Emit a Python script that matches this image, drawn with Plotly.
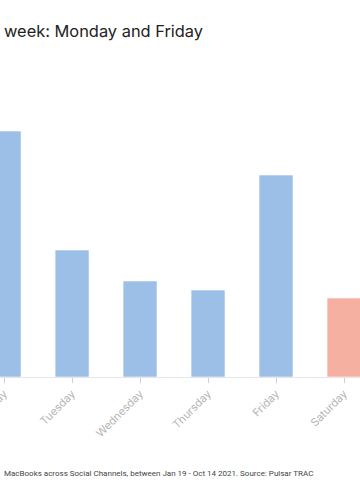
import plotly.graph_objects as go

days = ["Monday", "Tuesday", "Wednesday", "Thursday", "Friday", "Saturday", "Sunday"]
mentions = [246, 127, 96, 87, 202, 79, 82]
bar_colors = ["#9bbfe6"] * 5 + ["#f6b0a1"] * 2

title_text = "week: Monday and Friday"
footer_text = "MacBooks across Social Channels, between Jan 19 - Oct 14 2021. Source: Pulsar TRAC"

W, H = 360, 500
T, B = 77, 123
plot_h = H - T - B

fig = go.Figure(go.Bar(
    x=days, y=mentions,
    marker=dict(color=bar_colors, line=dict(color="rgba(255,255,255,0.6)", width=1)),
    width=0.5,
))

fig.update_layout(
    width=W, height=H,
    margin=dict(l=0, r=0, t=T, b=B, autoexpand=False),
    plot_bgcolor="white", paper_bgcolor="white",
    showlegend=False,
    font=dict(family="Inter, Noto Sans, sans-serif"),
    xaxis=dict(
        range=[-0.06, 5.235], automargin=False,
        showline=True, linecolor="#e6e6e6", linewidth=1,
        ticks="outside", ticklen=5, tickcolor="#d0d0d0",
        tickangle=-45, tickfont=dict(size=11, color="#b5b5b5"),
        showgrid=False, fixedrange=True,
    ),
    yaxis=dict(range=[0, 300], visible=False, showgrid=False, automargin=False, fixedrange=True),
)

fig.add_annotation(text=title_text, xref="paper", yref="paper", x=0.005, y=1 + (T - 31) / plot_h,
                   xanchor="left", yanchor="middle", showarrow=False,
                   font=dict(size=16.4, color="#222222"))
fig.add_annotation(text=footer_text, xref="paper", yref="paper", x=0.005, y=-(473 - (H - B)) / plot_h,
                   xanchor="left", yanchor="middle", showarrow=False,
                   font=dict(family="Roboto, sans-serif", size=8, color="#444444"))

fig.write_html("out.html", config={"displayModeBar": False},
               post_script="document.body.style.margin='0';")
